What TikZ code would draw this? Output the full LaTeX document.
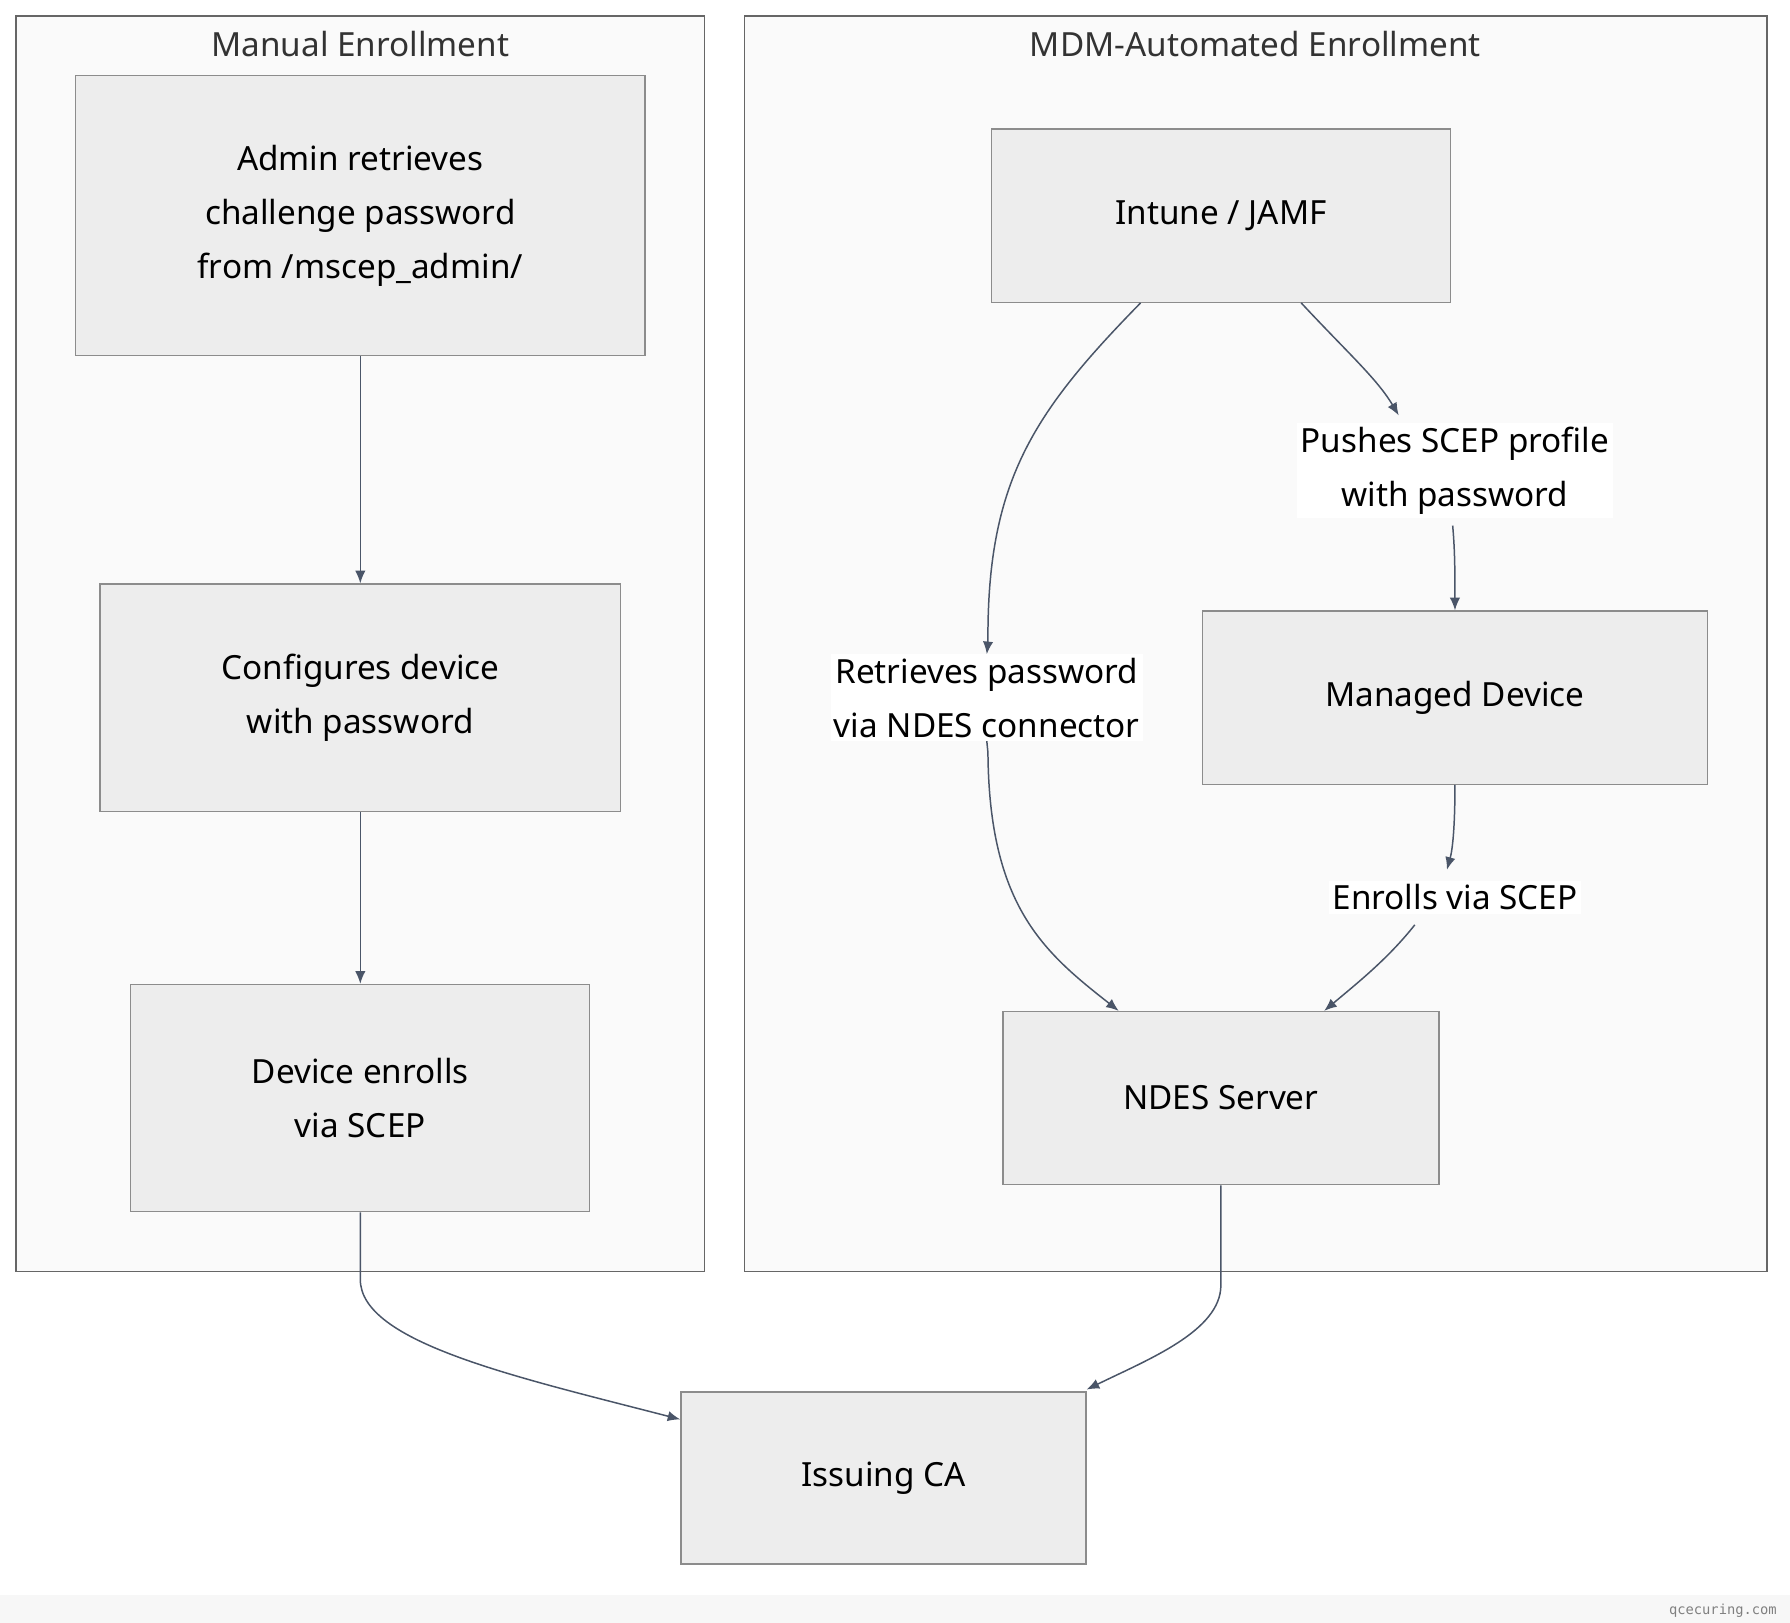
\documentclass[tikz,border=0pt]{standalone}
\usepackage{fontspec}
\setmainfont{Noto Sans}
\setmonofont{DejaVu Sans Mono}
\usetikzlibrary{arrows.meta}
\definecolor{edge}{HTML}{4A5568}
\begin{document}
\begin{tikzpicture}[x=1pt,y=-1pt,
  box/.style={draw=black!45,fill=black!7,line width=1.2pt,inner sep=0pt,align=center,font=\fontsize{29}{47}\selectfont},
  clus/.style={draw=black!60,fill=black!2,line width=1.2pt},
  ttl/.style={font=\fontsize{29}{35}\selectfont,text=black!80},
  ar/.style={draw=edge,line width=1.3pt,-{Latex[length=11pt,width=9pt]}},
  lbl/.style={fill=white,inner sep=3pt,align=center,font=\fontsize{29}{47}\selectfont}]
\useasboundingbox (0,0) rectangle (1560,1414);
\fill[black!3] (0,1390) rectangle (1560,1414);
\node[anchor=east,font=\ttfamily\fontsize{12}{14}\selectfont,text=black!50] (wm) at (1552,1404) {qcecuring.com};
\draw[clus] (14,14) rectangle (614,1108);
\draw[clus] (649,14) rectangle (1540,1108);
\node[ttl] (t1) at (314,38) {Manual Enrollment};
\node[ttl] (t2) at (1094,38) {MDM-Automated Enrollment};
\node[box,minimum width=496pt,minimum height=244pt] (admin) at (314,188) {Admin retrieves\\challenge password\\from /mscep\_admin/};
\node[box,minimum width=454pt,minimum height=198pt] (conf) at (314,608) {Configures device\\with password};
\node[box,minimum width=400pt,minimum height=198pt] (enr) at (314,957) {Device enrolls\\via SCEP};
\node[box,minimum width=400pt,minimum height=151pt] (intune) at (1064,188) {Intune / JAMF};
\node[box,minimum width=440pt,minimum height=151pt] (man) at (1268,608) {Managed Device};
\node[box,minimum width=380pt,minimum height=151pt] (ndes) at (1064,957) {NDES Server};
\node[box,minimum width=353pt,minimum height=150pt] (ca) at (770,1288) {Issuing CA};
\draw[ar] (admin) -- (conf);
\draw[ar] (conf) -- (enr);
\draw[ar] (enr.south) -- (314,1115) .. controls (314,1170) and (450,1200) .. (ca.north west |- 0,1237);
\draw[ar] (ndes.south) -- (1064,1120) .. controls (1064,1160) and (1000,1185) .. (947,1211);
\node[lbl] (l1) at (860,608) {Retrieves password\\via NDES connector};
\node[lbl] (l2) at (1268,410) {Pushes SCEP profile\\with password};
\node[lbl] (l3) at (1268,782) {Enrolls via SCEP};
\draw[ar] (994,264) .. controls (900,360) and (860,420) .. (861,560) -- (l1.north);
\draw[ar] (l1.south) -- (861,656) .. controls (862,790) and (910,830) .. (975,881);
\draw[ar] (1134,264) .. controls (1175,308) and (1200,330) .. (1219,362);
\draw[ar] (1266,458) .. controls (1268,480) and (1268,500) .. (man.north);
\draw[ar] (man.south) .. controls (1268,720) and (1266,740) .. (1261,758);
\draw[ar] (1233,806) .. controls (1210,835) and (1185,855) .. (1154,881);
\end{tikzpicture}
\end{document}
